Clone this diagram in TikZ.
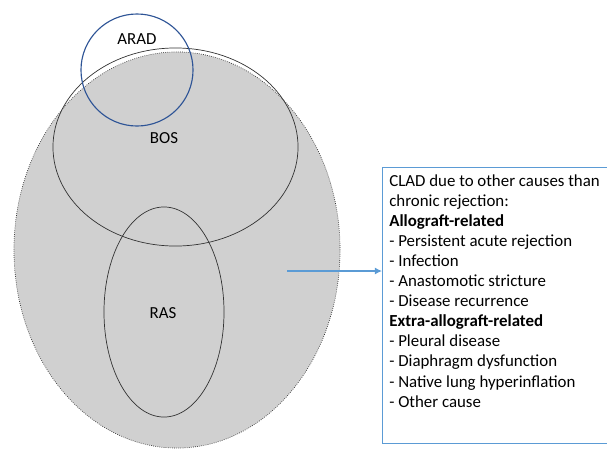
\documentclass[tikz,border=0pt]{standalone}
\usepackage{fontspec}
\setmainfont{Carlito}
\usetikzlibrary{shapes.geometric,arrows.meta}
\definecolor{fondo}{RGB}{208,208,208}
\definecolor{bluarad}{RGB}{46,84,150}
\definecolor{bluarrow}{RGB}{91,155,213}

\begin{document}
\begin{tikzpicture}[x=0.025cm,y=-0.025cm,
  insieme/.style={ellipse,draw=black!80,inner sep=0pt,outer sep=0pt,line width=0.5pt},
  etichetta/.style={font=\fontsize{12}{14}\selectfont},
  elenco/.style={font=\fontsize{12}{14.3}\selectfont,align=left,inner sep=0pt,anchor=north west}]
\useasboundingbox (0,0) rectangle (607,449);
% insiemi
\node[insieme,fill=fondo,densely dotted,minimum width=8.15cm,minimum height=9.9cm] (clad) at (177,250) {};
\node[insieme,minimum width=6.125cm,minimum height=4.95cm] (bos) at (175.5,147) {};
\node[insieme,minimum width=3cm,minimum height=5.25cm] (ras) at (164,312) {};
\node[insieme,circle,draw=bluarad,line width=0.8pt,minimum size=2.8cm] (arad) at (137,70) {};
\node[etichetta] (aradtxt) at (137,39) {ARAD};
\node[etichetta] (bostxt) at (164,138) {BOS};
\node[etichetta] (rastxt) at (163,313) {RAS};
% riquadro
\node[draw=bluarrow,line width=0.6pt,anchor=north west,inner sep=0pt,minimum width=5.7cm,minimum height=6.9cm] (riquadro) at (382,167) {};
\node[elenco] (cause) at (389,174) {CLAD due to other causes than\\
chronic rejection:\\
\textbf{Allograft-related}\\
- Persistent acute rejection\\
- Infection\\
- Anastomotic stricture\\
- Disease recurrence\\
\textbf{Extra-allograft-related}\\
- Pleural disease\\
- Diaphragm dysfunction\\
- Native lung hyperinflation\\
- Other cause};
\coordinate (partenza) at (287,271);
\draw[bluarrow,line width=1pt,-{Latex[length=5pt,width=5pt]}] (partenza) -- (partenza -| riquadro.west);
\end{tikzpicture}
\end{document}
